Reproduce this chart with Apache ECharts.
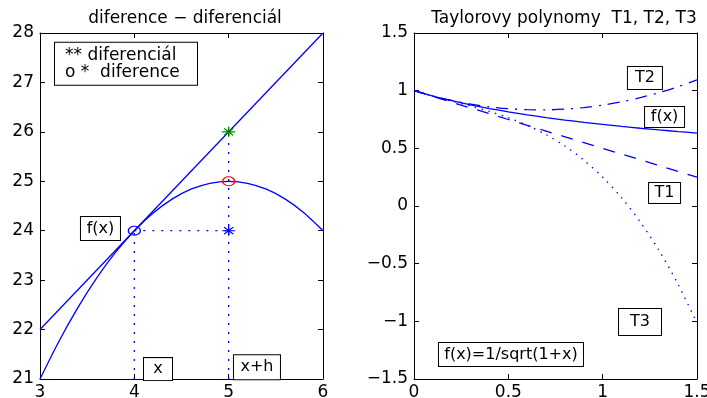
<!DOCTYPE html>
<html>
<head>
<meta charset="utf-8">
<script src="https://cdn.jsdelivr.net/npm/echarts@6/dist/echarts.min.js"></script>
<style>
html, body { margin: 0; padding: 0; background: #fff; }
#main { width: 707px; height: 398px; }
</style>
</head>
<body>
<div id="main"></div>
<script>
// ---- levy graf: diference - diferencial ----
var xParab = [3, 3.2, 3.4, 3.6, 3.8, 4, 4.2, 4.4, 4.6, 4.8, 5, 5.2, 5.4, 5.6, 5.8, 6];
var yParab = [21, 21.76, 22.44, 23.04, 23.56, 24, 24.36, 24.64, 24.84, 24.96, 25, 24.96, 24.84, 24.64, 24.36, 24];
var xTangent = [3, 6];
var yTangent = [22, 28];
var guideX4 = [[4, 21], [4, 24]];
var guideX5 = [[5, 21], [5, 26]];
var guideY24 = [[4, 24], [5, 24]];
var ptFx = [4, 24];      // modre kolecko
var ptFxh = [5, 25];     // cervene kolecko
var ptDiff = [5, 26];    // zelena hvezdicka
var ptBase = [5, 24];    // modra hvezdicka
var leftTicksX = [3, 6, 1];
var leftTicksY = [21, 28, 1];

// ---- pravy graf: Taylorovy polynomy ----
var xTay = [0, 0.1, 0.2, 0.3, 0.4, 0.5, 0.6, 0.7, 0.8, 0.9, 1, 1.1, 1.2, 1.3, 1.4, 1.5];
var yF  = [1, 0.9535, 0.9129, 0.8771, 0.8452, 0.8165, 0.7906, 0.767, 0.7454, 0.7255, 0.7071, 0.6901, 0.6742, 0.6594, 0.6455, 0.6325];
var yT1 = [1, 0.95, 0.9, 0.85, 0.8, 0.75, 0.7, 0.65, 0.6, 0.55, 0.5, 0.45, 0.4, 0.35, 0.3, 0.25];
var yT2 = [1, 0.95375, 0.915, 0.88375, 0.86, 0.84375, 0.835, 0.83375, 0.84, 0.85375, 0.875, 0.90375, 0.94, 0.98375, 1.035, 1.09375];
var yT3 = [1, 0.953125, 0.91, 0.866875, 0.82, 0.765625, 0.7, 0.619375, 0.52, 0.398125, 0.25, 0.071875, -0.14, -0.389375, -0.68, -1.015625];
var rightTicksX = [0, 1.5, 0.5];
var rightTicksY = [-1.5, 1.5, 0.5];

// popisky v ramecku (stred v datovych souradnicich)
var leftNotes = [
    { pos: [3.641, 24.045], text: 'f(x)' },
    { pos: [4.251, 21.2], text: 'x' },
    { pos: [5.30, 21.24], text: 'x+h' }
];
var legendNote = { pos: [3.159, 27.38], text: '** diferenciál\no *  diference' };
var rightNotes = [
    { pos: [1.224, 1.11], text: 'T2' },
    { pos: [1.328, 0.772], text: 'f(x)' },
    { pos: [1.328, 0.113], text: 'T1' },
    { pos: [1.198, -1.006], text: 'T3' },
    { pos: [0.514, -1.288], text: 'f(x)=1/sqrt(1+x)' }
];
var leftBoxSize = [[41, 25], [30, 24], [48, 26]];
var rightBoxSize = [[36, 24], [41, 22], [33, 22], [44, 28], [146, 25]];

var FONT = 'DejaVu Sans';
var BLUE = '#0000ff';
var STAR = 'path://M5,0L5,10M0,5L10,5M1.5,1.5L8.5,8.5M1.5,8.5L8.5,1.5';

function pairs(xs, ys) {
    return xs.map(function (x, i) { return [x, ys[i]]; });
}
function minusSign(v) {
    return String(v).replace('-', '\u2212');
}
// ctyri osy kolem jednoho gridu (ramecek + tiky dovnitr)
function axis(dim, pos, grid, t, labels) {
    return {
        type: 'value', gridIndex: grid, position: pos,
        min: t[0], max: t[1], interval: t[2],
        axisLine: { show: true, onZero: false, lineStyle: { color: '#000', width: 1 } },
        axisTick: { show: true, inside: true, length: 5, lineStyle: { color: '#000' } },
        axisLabel: {
            show: labels, color: '#000', fontFamily: FONT, fontSize: 17,
            margin: dim === 'x' ? 5 : 6, formatter: minusSign
        },
        splitLine: { show: false }
    };
}
function lineSeries(data, xi, yi, dash, color) {
    return {
        type: 'line', xAxisIndex: xi, yAxisIndex: yi, data: data,
        showSymbol: false, symbol: 'none', silent: true,
        lineStyle: { color: color || BLUE, width: 1.3, type: dash || 'solid', opacity: 1 }
    };
}
function markerSeries(pt, xi, yi, symbol, size, color) {
    return {
        type: 'scatter', xAxisIndex: xi, yAxisIndex: yi, data: [pt],
        symbol: symbol, symbolSize: size, z: 5,
        itemStyle: { color: 'none', borderColor: color, borderWidth: 1.2, opacity: 1 }
    };
}
function noteSeries(notes, sizes, xi, yi) {
    return {
        type: 'scatter', xAxisIndex: xi, yAxisIndex: yi, z: 10, symbolSize: 1,
        itemStyle: { color: 'transparent', opacity: 1 },
        data: notes.map(function (n, i) {
            return {
                value: n.pos, name: n.text,
                label: { width: sizes[i][0] - 2, height: sizes[i][1] - 2, lineHeight: sizes[i][1] - 2 }
            };
        }),
        label: {
            show: true, position: 'inside', formatter: '{b}',
            align: 'center', verticalAlign: 'middle',
            color: '#000', fontFamily: FONT, fontSize: 16,
            backgroundColor: '#fff', borderColor: '#000', borderWidth: 1
        }
    };
}

var option = {
    animation: false,
    backgroundColor: '#fff',
    title: [
        { text: 'diference \u2212 diferenciál', left: 180, top: 5, textAlign: 'center',
          textStyle: { fontFamily: FONT, fontSize: 17, fontWeight: 'normal', color: '#000' } },
        { text: 'Taylorovy polynomy  T1, T2, T3', left: 559, top: 5, textAlign: 'center',
          textStyle: { fontFamily: FONT, fontSize: 17, fontWeight: 'normal', color: '#000' } }
    ],
    grid: [
        { left: 40, top: 33, width: 283, height: 346, outerBoundsMode: 'none', containLabel: false },
        { left: 414, top: 33, width: 283, height: 346, outerBoundsMode: 'none', containLabel: false }
    ],
    xAxis: [
        axis('x', 'bottom', 0, leftTicksX, true),
        axis('x', 'top', 0, leftTicksX, false),
        axis('x', 'bottom', 1, rightTicksX, true),
        axis('x', 'top', 1, rightTicksX, false)
    ],
    yAxis: [
        axis('y', 'left', 0, leftTicksY, true),
        axis('y', 'right', 0, leftTicksY, false),
        axis('y', 'left', 1, rightTicksY, true),
        axis('y', 'right', 1, rightTicksY, false)
    ],
    series: [
        // levy graf
        lineSeries(pairs(xTangent, yTangent), 0, 0),
        Object.assign(lineSeries(pairs(xParab, yParab), 0, 0), { smooth: 0.3 }),
        lineSeries(guideX4, 0, 0, [2, 7]),
        lineSeries(guideX5, 0, 0, [2, 7]),
        lineSeries(guideY24, 0, 0, [2, 7]),
        markerSeries(ptFx, 0, 0, 'circle', [12, 9], BLUE),
        markerSeries(ptFxh, 0, 0, 'circle', [12, 9], '#ff0000'),
        markerSeries(ptDiff, 0, 0, STAR, [13, 10], '#008000'),
        markerSeries(ptBase, 0, 0, STAR, [13, 10], BLUE),
        noteSeries(leftNotes, leftBoxSize, 0, 0),
        {
            type: 'scatter', xAxisIndex: 0, yAxisIndex: 0, z: 10, symbolSize: 1,
            itemStyle: { color: 'transparent', opacity: 1 },
            data: [{ value: legendNote.pos, name: legendNote.text }],
            label: {
                show: true, position: 'inside', formatter: '{b}',
                align: 'left', verticalAlign: 'middle',
                width: 132, lineHeight: 17, padding: [4, 0, 4, 10],
                color: '#000', fontFamily: FONT, fontSize: 17,
                backgroundColor: '#fff', borderColor: '#000', borderWidth: 1
            }
        },
        // pravy graf
        Object.assign(lineSeries(pairs(xTay, yF), 2, 2), { smooth: 0.3 }),
        lineSeries(pairs(xTay, yT1), 2, 2, [12, 10]),
        Object.assign(lineSeries(pairs(xTay, yT2), 2, 2, [12, 7, 2, 7]), { smooth: 0.3 }),
        Object.assign(lineSeries(pairs(xTay, yT3), 2, 2, [1.5, 5.5]), { smooth: 0.3 }),
        noteSeries(rightNotes, rightBoxSize, 2, 2)
    ]
};

var chart = echarts.init(document.getElementById('main'));
chart.setOption(option);
</script>
</body>
</html>
